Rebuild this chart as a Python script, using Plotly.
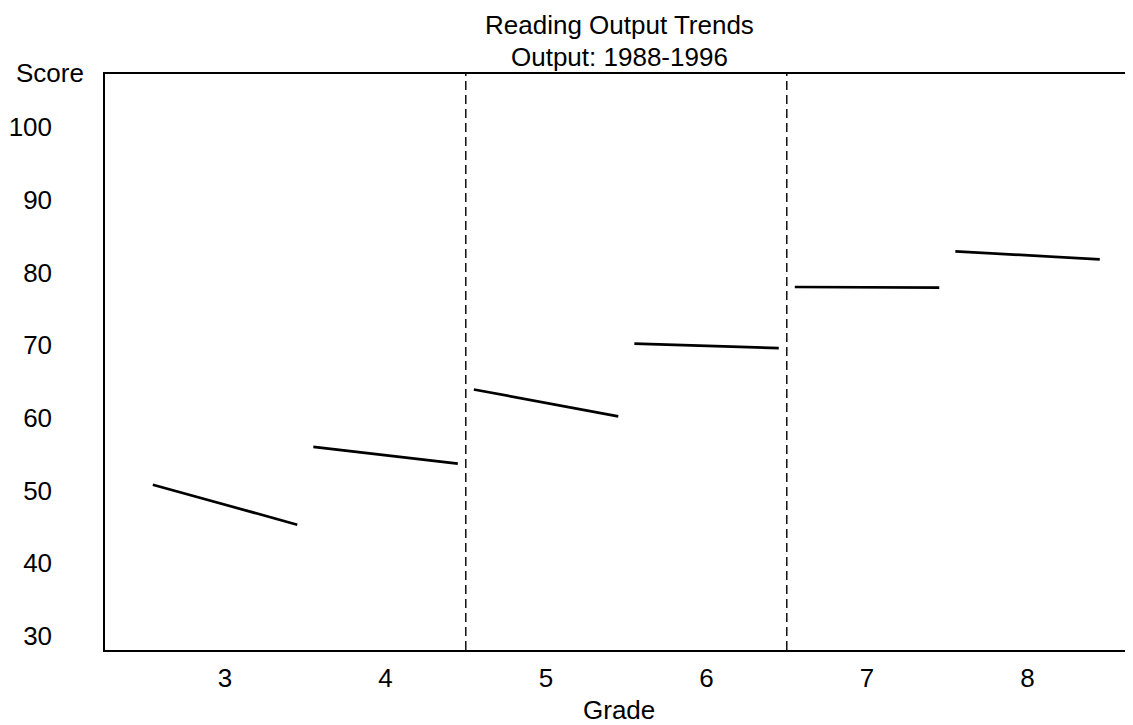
import plotly.graph_objects as go

# Data
grades = [3, 4, 5, 6, 7, 8]
score_start = [50.8, 56.0, 63.9, 70.2, 78.0, 82.9]
score_end = [45.3, 53.7, 60.2, 69.6, 77.9, 81.8]
y_ticks = [30, 40, 50, 60, 70, 80, 90, 100]
dividers = [4.5, 6.5]
title_lines = ["Reading Output Trends", "Output: 1988-1996"]

HALF = 0.45
FONT = dict(family="Liberation Sans, Arial, sans-serif", size=26, color="black")

# page has an 8px body margin, so the figure is sized/placed to compensate
W, H = 1125, 717
PLOT_TOP = 66
PLOT_BOTTOM = 642

xs, ys = [], []
for g, s0, s1 in zip(grades, score_start, score_end):
    xs += [g - HALF, g + HALF, None]
    ys += [s0, s1, None]

fig = go.Figure()
fig.add_trace(go.Scatter(x=xs, y=ys, mode="lines",
                         line=dict(color="black", width=2.7),
                         showlegend=False, hoverinfo="skip"))

for d in dividers:
    fig.add_shape(type="line", xref="x", yref="paper", x0=d, x1=d, y0=0, y1=1,
                  line=dict(color="black", width=1.4, dash="9px,5px"))

fig.add_annotation(text=title_lines[0], xref="paper", yref="paper", x=0.5, y=1,
                   yanchor="middle", yshift=PLOT_TOP - 17, showarrow=False, font=FONT)
fig.add_annotation(text=title_lines[1], xref="paper", yref="paper", x=0.5, y=1,
                   yanchor="middle", yshift=PLOT_TOP - 49, showarrow=False, font=FONT)
fig.add_annotation(text="Score", xref="paper", yref="paper", x=0, y=1,
                   xanchor="center", yanchor="middle", xshift=-55, yshift=PLOT_TOP - 65,
                   showarrow=False, font=FONT)
fig.add_annotation(text="Grade", xref="paper", yref="paper", x=0.5, y=0,
                   xanchor="center", yanchor="middle", yshift=PLOT_BOTTOM - 702,
                   showarrow=False, font=FONT)

fig.update_layout(
    width=W, height=H,
    margin=dict(l=97, r=0, t=PLOT_TOP, b=H - PLOT_BOTTOM, pad=0),
    paper_bgcolor="white", plot_bgcolor="white",
    font=FONT,
    xaxis=dict(range=[2.252, 8.657], tickvals=grades, ticktext=[str(g) for g in grades],
               showgrid=False, zeroline=False, showline=True, mirror=True,
               linecolor="black", linewidth=1.5, ticks="", ticklabelstandoff=4,
               tickfont=FONT),
    yaxis=dict(range=[28.06, 107.3], tickvals=y_ticks, ticktext=[str(v) for v in y_ticks],
               showgrid=False, zeroline=False, showline=True, mirror=False,
               linecolor="black", linewidth=1.5, ticks="", ticklabelstandoff=46,
               tickfont=FONT),
)

fig.write_html("out.html")
